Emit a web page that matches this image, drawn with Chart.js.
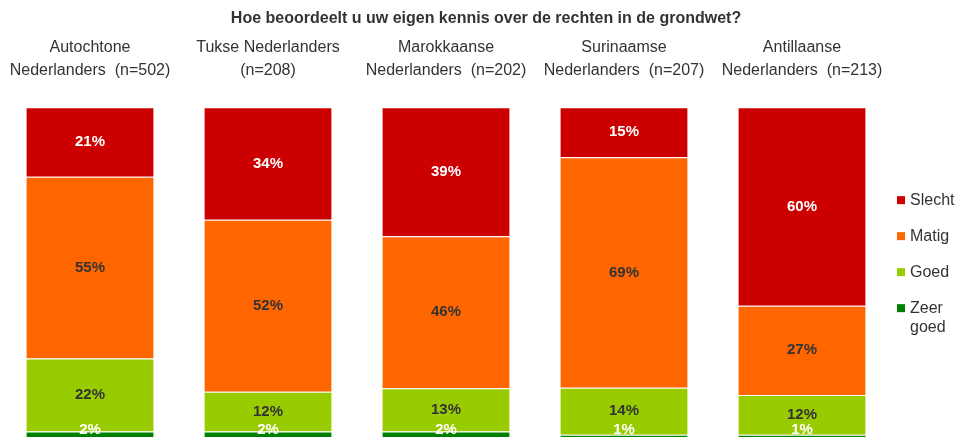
<!DOCTYPE html>
<html>
<head>
<meta charset="utf-8">
<script src="https://cdn.jsdelivr.net/npm/chart.js@4.4.1/dist/chart.umd.min.js"></script>
<style>
  html, body { margin: 0; padding: 0; background: #fff; overflow: hidden; }
  #wrap { width: 956px; height: 439px; }
</style>
</head>
<body>
<div id="wrap"><canvas id="myChart"></canvas></div>
<script>
const title = 'Hoe beoordeelt u uw eigen kennis over de rechten in de grondwet?';

const categories = [
    ['Autochtone', 'Nederlanders  (n=502)'],
    ['Tukse Nederlanders', '(n=208)'],
    ['Marokkaanse', 'Nederlanders  (n=202)'],
    ['Surinaamse', 'Nederlanders  (n=207)'],
    ['Antillaanse', 'Nederlanders  (n=213)']
];

// percentages as printed in the chart
const zeerGoed = [2, 2, 2, 1, 1];
const goed = [22, 12, 13, 14, 12];
const matig = [55, 52, 46, 69, 27];
const slecht = [21, 34, 39, 15, 60];

const seriesNames = ['Zeer goed', 'Goed', 'Matig', 'Slecht'];
const seriesColors = ['#008000', '#99cc00', '#ff6600', '#cc0000'];
const labelColors = ['#ffffff', '#333333', '#333333', '#ffffff'];

const series = [zeerGoed, goed, matig, slecht];

// stack to 100%
const totals = categories.map((c, i) => series.reduce((s, arr) => s + arr[i], 0));

const datasets = series.map((arr, k) => ({
    label: seriesNames[k],
    data: arr.map((v, i) => v / totals[i] * 100),
    raw: arr,
    backgroundColor: seriesColors[k],
    borderColor: '#ffffff',
    borderWidth: { top: 1, bottom: 0, left: 0, right: 0 },
    borderSkipped: false,
    categoryPercentage: 1,
    barPercentage: 0.715
}));

const FONT = '"Liberation Sans", Arial, sans-serif';

const extras = {
    id: 'extras',
    afterDatasetsDraw(chart) {
        const ctx = chart.ctx;
        ctx.save();
        ctx.textAlign = 'center';
        ctx.textBaseline = 'middle';
        ctx.font = 'bold 15px ' + FONT;
        chart.data.datasets.forEach((ds, k) => {
            const meta = chart.getDatasetMeta(k);
            meta.data.forEach((bar, i) => {
                // tiny segments: keep the label a bit higher like the original
                const y = Math.min((bar.y + bar.base) / 2, bar.base - 8);
                ctx.fillStyle = labelColors[k];
                ctx.fillText(ds.raw[i] + '%', bar.x, y);
            });
        });
        ctx.restore();
    },
    afterDraw(chart) {
        const ctx = chart.ctx;
        const area = chart.chartArea;
        ctx.save();
        // title
        ctx.fillStyle = '#333333';
        ctx.font = 'bold 16px ' + FONT;
        ctx.textAlign = 'center';
        ctx.textBaseline = 'middle';
        ctx.fillText(title, chart.width / 2 + 8, 19);

        // legend, reversed order
        ctx.textAlign = 'left';
        ctx.font = '16px ' + FONT;
        let y = area.top + 93;
        for (let k = seriesNames.length - 1; k >= 0; k--) {
            ctx.fillStyle = seriesColors[k];
            ctx.fillRect(area.right + 6, y - 4, 8, 8);
            ctx.fillStyle = '#333333';
            const words = seriesNames[k].split(' ');
            words.forEach((w, j) => {
                ctx.fillText(w, area.right + 19, y + j * 19);
            });
            y += 36;
        }
        ctx.restore();
    }
};

const chart = new Chart(document.getElementById('myChart').getContext('2d'), {
    type: 'bar',
    data: {
        labels: categories,
        datasets: datasets
    },
    options: {
        responsive: true,
        maintainAspectRatio: false,
        animation: false,
        layout: {
            padding: { top: 11, left: 1, right: 65, bottom: 1 }
        },
        plugins: {
            legend: { display: false },
            title: { display: false },
            tooltip: { enabled: false }
        },
        scales: {
            x: {
                position: 'top',
                stacked: true,
                grid: { display: false, drawTicks: false },
                border: { display: false },
                afterFit(scale) {
                    scale.paddingLeft = 0;
                    scale.paddingRight = 0;
                },
                ticks: {
                    color: '#333333',
                    padding: 26,
                    maxRotation: 0,
                    autoSkip: false,
                    font: { family: FONT, size: 16, lineHeight: 1.38 }
                }
            },
            y: {
                display: false,
                stacked: true,
                min: 0,
                max: 100
            }
        }
    },
    plugins: [extras]
});
</script>
</body>
</html>
